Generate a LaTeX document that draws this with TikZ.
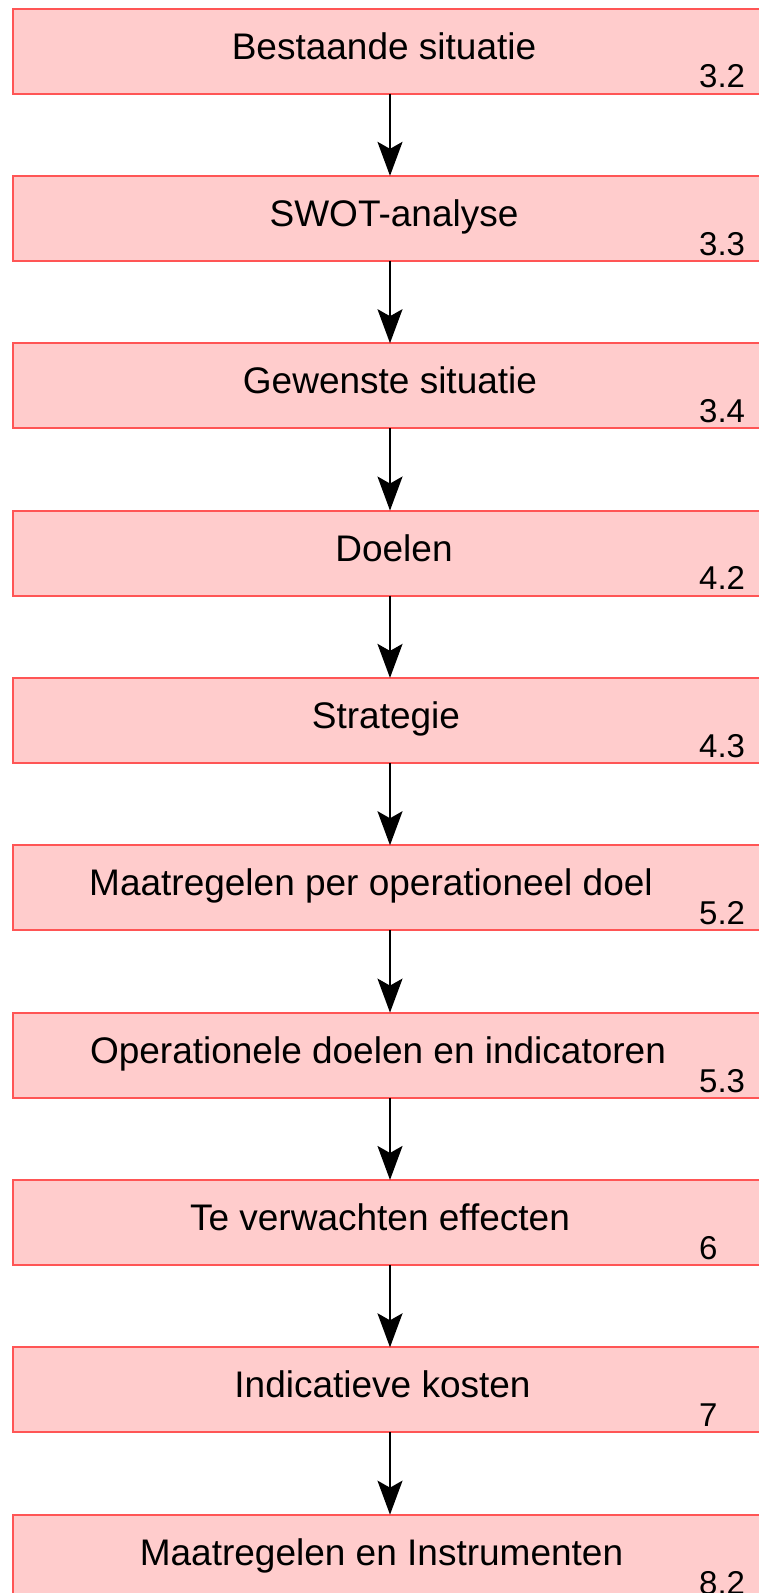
\documentclass[tikz,border=0pt]{standalone}
\usepackage{fontspec}
\setmainfont{Liberation Sans}
\usepackage{xcolor}
\definecolor{boxfill}{RGB}{255, 204, 204}
\definecolor{boxline}{RGB}{255, 85, 85}
\usepackage{tikz}
\usetikzlibrary{
    arrows.meta,
    positioning
}

\begin{document}
\begin{tikzpicture}[
  node distance=82.35pt,
  stepbox/.style={draw=boxline, fill=boxfill, line width=2pt, outer sep=0pt,
    minimum width=754pt, minimum height=85pt, inner sep=0pt,
    text height=27pt, text depth=11pt, font=\fontsize{37}{44}\selectfont},
  textshift/.style={execute at begin node={\hspace*{#1}}},
  nr/.style={anchor=base west, inner sep=0pt, font=\fontsize{33}{40}\selectfont},
  arrow/.style={-{Stealth[length=34pt, width=25pt, inset=7pt]}, line width=2pt}
]

\path[use as bounding box, fill=white] (0,0) rectangle (759pt,-1593pt);

\node (bestaande)    [stepbox, textshift=-12pt] at (390pt,-51pt) {Bestaande situatie};
\node (swot)         [stepbox, textshift=8pt,   below=of bestaande]   {SWOT-analyse};
\node (gewenst)      [stepbox,                  below=of swot]        {Gewenste situatie};
\node (doelen)       [stepbox, textshift=8pt,   below=of gewenst]     {Doelen};
\node (strategie)    [stepbox, textshift=-8pt,  below=of doelen]      {Strategie};
\node (maatregelen)  [stepbox, textshift=-38pt, below=of strategie]   {Maatregelen per operationeel doel};
\node (operationeel) [stepbox, textshift=-24pt, below=of maatregelen] {Operationele doelen en indicatoren};
\node (effecten)     [stepbox, textshift=-20pt, below=of operationeel] {Te verwachten effecten};
\node (kosten)       [stepbox, textshift=-15pt, below=of effecten]    {Indicatieve kosten};
\node (instrumenten) [stepbox, textshift=-17pt, below=of kosten]      {Maatregelen en Instrumenten};

% paragraph numbers
\node (bestaande-nr)    [nr] at ([xshift=309pt, yshift=5.6pt]bestaande.south)    {3.2};
\node (swot-nr)         [nr] at ([xshift=309pt, yshift=5.6pt]swot.south)         {3.3};
\node (gewenst-nr)      [nr] at ([xshift=309pt, yshift=5.6pt]gewenst.south)      {3.4};
\node (doelen-nr)       [nr] at ([xshift=309pt, yshift=5.6pt]doelen.south)       {4.2};
\node (strategie-nr)    [nr] at ([xshift=309pt, yshift=5.6pt]strategie.south)    {4.3};
\node (maatregelen-nr)  [nr] at ([xshift=309pt, yshift=5.6pt]maatregelen.south)  {5.2};
\node (operationeel-nr) [nr] at ([xshift=309pt, yshift=5.6pt]operationeel.south) {5.3};
\node (effecten-nr)     [nr] at ([xshift=309pt, yshift=5.6pt]effecten.south)     {6};
\node (kosten-nr)       [nr] at ([xshift=309pt, yshift=5.6pt]kosten.south)       {7};
\node (instrumenten-nr) [nr] at ([xshift=309pt, yshift=5.6pt]instrumenten.south) {8.2};

\draw[arrow] (bestaande)    -- (swot);
\draw[arrow] (swot)         -- (gewenst);
\draw[arrow] (gewenst)      -- (doelen);
\draw[arrow] (doelen)       -- (strategie);
\draw[arrow] (strategie)    -- (maatregelen);
\draw[arrow] (maatregelen)  -- (operationeel);
\draw[arrow] (operationeel) -- (effecten);
\draw[arrow] (effecten)     -- (kosten);
\draw[arrow] (kosten)       -- (instrumenten);

\end{tikzpicture}
\end{document}
